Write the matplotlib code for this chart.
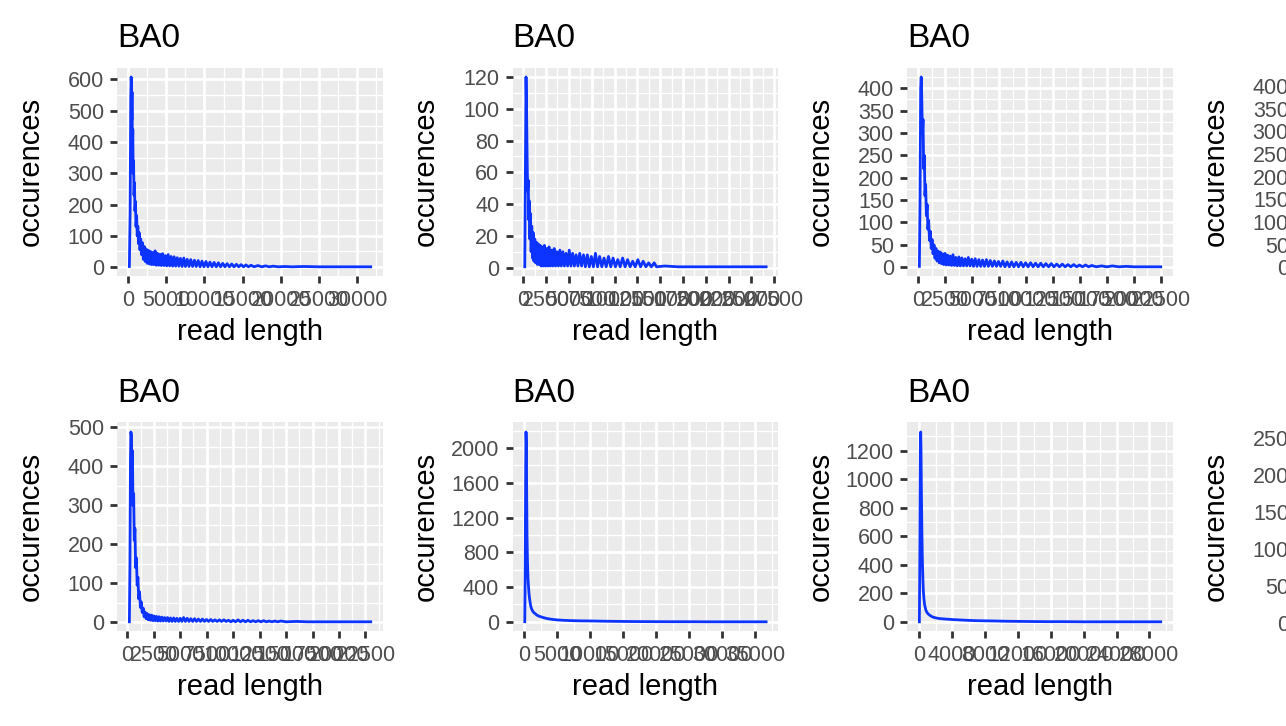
import matplotlib
matplotlib.use("Agg")
import matplotlib.pyplot as plt
from matplotlib.ticker import MultipleLocator, StrMethodFormatter

plt.rcParams['font.family'] = ['Liberation Sans', 'DejaVu Sans']

# read length / occurences per sample
len1 = [150, 250, 330, 380, 420, 460, 500, 550, 600, 650,
        700, 760, 820, 880, 950, 1020, 1100, 1180, 1260, 1350,
        1440, 1540, 1640, 1750, 1860, 1980, 2100, 2230, 2360, 2500,
        2640, 2780, 2920, 3070, 3220, 3370, 3520, 3680, 3840, 4000,
        4170, 4340, 4510, 4690, 4870, 5050, 5240, 5430, 5620, 5820,
        6020, 6220, 6430, 6640, 6850, 7070, 7290, 7510, 7740, 7970,
        8200, 8440, 8680, 8920, 9170, 9420, 9670, 9930, 10190, 10450,
        10720, 10990, 11260, 11540, 11820, 12100, 12390, 12680, 12970, 13270,
        13570, 13870, 14180, 14490, 14800, 15120, 15440, 15760, 16100, 16500,
        17000, 17500, 18000, 18500, 19000, 19700, 20500, 21500, 23000, 25000,
        27500, 30000, 31800]
occ1 = [2, 180, 540, 608, 590, 470, 560, 380, 440, 300,
        340, 230, 270, 180, 210, 130, 165, 100, 130, 75,
        110, 55, 90, 40, 78, 25, 66, 18, 58, 12,
        54, 10, 50, 8, 47, 8, 52, 6, 44, 6,
        41, 5, 43, 5, 37, 4, 40, 4, 34, 3,
        33, 3, 30, 3, 28, 2, 29, 2, 25, 2,
        24, 2, 22, 2, 21, 1, 19, 1, 18, 1,
        16, 1, 15, 1, 14, 1, 12, 1, 11, 1,
        10, 1, 9, 1, 8, 1, 7, 1, 6, 1,
        5, 1, 4, 1, 3, 1, 2, 1, 2, 1,
        1, 1, 1]

len2 = [163, 230, 300, 360, 420, 480, 540, 600, 660, 720,
        790, 860, 930, 1010, 1090, 1170, 1260, 1350, 1440, 1540,
        1640, 1740, 1850, 1960, 2070, 2190, 2310, 2430, 2560, 2690,
        2820, 2960, 3100, 3240, 3390, 3540, 3690, 3850, 4010, 4170,
        4340, 4510, 4680, 4860, 5040, 5220, 5410, 5600, 5790, 5990,
        6190, 6390, 6600, 6810, 7020, 7240, 7460, 7680, 7910, 8140,
        8370, 8610, 8850, 9090, 9340, 9590, 9840, 10100, 10360, 10620,
        10890, 11160, 11430, 11710, 11990, 12270, 12560, 12850, 13140, 13440,
        13740, 14040, 14350, 14600, 15500, 17000, 19000, 21000, 23000, 25000,
        26620]
occ2 = [0.5, 60, 120, 100, 70, 48, 55, 30, 42, 18,
        34, 10, 26, 6, 22, 4, 18, 3, 16, 2,
        15, 2, 14, 1, 13, 1, 14, 1, 12, 1,
        13, 1, 11, 1, 12, 1, 10, 1, 11, 1,
        10, 1, 9, 1, 11, 1, 9, 1, 8, 1,
        9, 1, 8, 0.5, 8, 0.5, 7, 0.5, 9, 0.5,
        7, 0.5, 6, 0.5, 7, 0.5, 6, 0.5, 5, 0.5,
        6, 0.5, 5, 0.5, 4, 0.5, 5, 0.5, 4, 0.5,
        3, 0.5, 3, 0.5, 1, 0.5, 0.5, 0.5, 0.5, 0.5,
        0.5]

len3 = [99, 160, 220, 270, 320, 380, 440, 500, 560, 620,
        680, 750, 820, 890, 960, 1040, 1120, 1200, 1280, 1370,
        1460, 1550, 1640, 1740, 1840, 1940, 2040, 2150, 2260, 2370,
        2480, 2600, 2720, 2840, 2960, 3090, 3220, 3350, 3480, 3620,
        3760, 3900, 4040, 4190, 4340, 4490, 4640, 4800, 4960, 5120,
        5280, 5450, 5620, 5790, 5960, 6140, 6320, 6500, 6680, 6870,
        7060, 7250, 7440, 7640, 7840, 8040, 8240, 8450, 8660, 8870,
        9080, 9300, 9520, 9740, 9960, 10190, 10420, 10650, 10880, 11120,
        11360, 11600, 11840, 12090, 12340, 12590, 12840, 13100, 13360, 13620,
        13880, 14150, 14420, 14690, 14960, 15240, 15520, 15800, 16100, 16500,
        17000, 17500, 18000, 18600, 19300, 20000, 21000, 22495]
occ3 = [2, 150, 400, 425, 380, 300, 330, 220, 250, 160,
        185, 115, 140, 85, 105, 60, 80, 42, 62, 30,
        50, 20, 42, 14, 36, 10, 34, 8, 30, 6,
        31, 5, 27, 5, 25, 4, 28, 4, 22, 3,
        23, 3, 21, 3, 19, 3, 22, 3, 18, 2,
        19, 2, 17, 2, 16, 2, 17, 2, 15, 2,
        14, 2, 13, 2, 14, 1, 12, 1, 12, 1,
        11, 1, 11, 1, 10, 1, 10, 1, 9, 1,
        9, 1, 8, 1, 8, 1, 7, 1, 7, 1,
        6, 1, 6, 1, 5, 1, 5, 1, 4, 1,
        3, 1, 3, 1, 2, 1, 1, 1]

len4 = [100, 180, 260, 330, 400, 500, 620, 760, 900, 1100,
        1300, 1600, 2000, 2500, 3000, 3600, 4300, 5000, 6000, 7000,
        8500, 10000, 12000, 14000, 17000, 20000, 24000]
occ4 = [2, 200, 410, 420, 330, 240, 160, 110, 80, 50,
        55, 30, 28, 12, 22, 6, 18, 4, 14, 3,
        10, 2, 6, 1, 3, 1, 1]

len5 = [195, 250, 300, 340, 380, 430, 480, 540, 600, 660,
        720, 790, 860, 930, 1000, 1080, 1160, 1240, 1320, 1410,
        1500, 1590, 1680, 1780, 1880, 1980, 2080, 2190, 2300, 2410,
        2520, 2640, 2760, 2880, 3000, 3130, 3260, 3390, 3520, 3660,
        3800, 3940, 4080, 4230, 4380, 4530, 4680, 4840, 5000, 5160,
        5320, 5490, 5660, 5830, 6000, 6180, 6360, 6540, 6720, 6910,
        7100, 7290, 7480, 7680, 7880, 8080, 8280, 8490, 8700, 8910,
        9120, 9340, 9560, 9780, 10000, 10230, 10460, 10690, 10920, 11160,
        11400, 11640, 11880, 12130, 12380, 12630, 12880, 13140, 13400, 13660,
        13920, 14200, 14500, 15000, 16000, 17000, 18500, 20000, 21500, 23000]
occ5 = [1, 150, 420, 488, 480, 400, 440, 300, 330, 210,
        240, 140, 165, 95, 115, 60, 78, 38, 52, 25,
        36, 14, 26, 9, 22, 6, 19, 5, 18, 4,
        16, 4, 15, 3, 14, 3, 13, 3, 12, 3,
        12, 2, 11, 2, 11, 2, 10, 2, 10, 2,
        12, 2, 10, 2, 9, 2, 9, 2, 8, 2,
        8, 2, 7, 2, 7, 2, 6, 2, 6, 2,
        6, 2, 5, 1, 5, 1, 6, 1, 5, 1,
        5, 1, 4, 1, 4, 1, 4, 1, 3, 1,
        3, 1, 3, 1, 2, 1, 1, 1, 1, 1]

len6 = [111, 180, 250, 300, 350, 400, 450, 520, 600, 680,
        760, 850, 950, 1050, 1200, 1350, 1500, 1700, 1900, 2200,
        2500, 2900, 3300, 3800, 4400, 5000, 6000, 7000, 8500, 10000,
        12000, 14000, 16500, 19000, 22000, 25000, 28000, 31000, 34000, 36670]
occ6 = [2, 600, 1800, 2183, 2050, 1500, 1000, 700, 500, 400,
        320, 260, 210, 170, 140, 120, 105, 95, 80, 68,
        60, 50, 42, 34, 28, 23, 18, 15, 12, 11,
        8, 6, 4, 3, 2, 2, 1, 1, 1, 1]

len7 = [10, 70, 130, 170, 210, 260, 320, 380, 440, 500,
        570, 650, 730, 820, 920, 1050, 1200, 1400, 1650, 1900,
        2200, 2600, 3000, 3500, 4000, 4600, 5300, 6000, 7000, 8000,
        9000, 10500, 12000, 13500, 15500, 17500, 20000, 22500, 25000, 27500,
        29380]
occ7 = [1, 500, 1200, 1330, 1200, 900, 620, 420, 300, 210,
        160, 120, 100, 80, 68, 58, 50, 42, 34, 30,
        26, 23, 21, 19, 17, 15, 13, 11, 9, 8,
        7, 5, 4, 3, 2, 2, 1, 1, 1, 1,
        1]

len8 = [100, 200, 300, 380, 460, 560, 680, 820, 1000, 1250,
        1500, 2000, 2600, 3300, 4200, 5500, 7000, 9000, 12000, 16000,
        21000, 26000, 30000]
occ8 = [1, 120, 240, 258, 220, 160, 110, 80, 60, 45,
        35, 25, 18, 14, 10, 8, 6, 4, 3, 2,
        1, 1, 1]

samples = ["BA0"] * 8
lengths = [len1, len2, len3, len4, len5, len6, len7, len8]
counts = [occ1, occ2, occ3, occ4, occ5, occ6, occ7, occ8]
x_steps = [5000, 2500, 2500, 2500, 2500, 5000, 4000, 5000]
y_steps = [100, 20, 50, 50, 100, 400, 200, 50]

W, H = 1286, 726
fig = plt.figure(figsize=(W / 100, H / 100), dpi=100)

# panel boxes in pixels; the 4th column runs off the right edge like the original
col_left = [117.3, 512.7, 907.3, 1302.3]
row_top = [67.5, 422.5]
pw, ph = 265.5, 208.8

for i in range(8):
    r, c = divmod(i, 4)
    ax = fig.add_axes([col_left[c] / W, 1 - (row_top[r] + ph) / H, pw / W, ph / H])
    x, y = lengths[i], counts[i]
    ax.plot(x, y, color='#0D33FF', lw=2.0)

    # ggplot-like 5% expansion
    xr = max(x) - min(x)
    yr = max(y) - min(y)
    ax.set_xlim(min(x) - 0.05 * xr, max(x) + 0.05 * xr)
    ax.set_ylim(min(y) - 0.05 * yr, max(y) + 0.05 * yr)

    ax.set_facecolor('#EBEBEB')
    for s in ax.spines.values():
        s.set_visible(False)
    ax.xaxis.set_major_locator(MultipleLocator(x_steps[i]))
    ax.xaxis.set_minor_locator(MultipleLocator(x_steps[i] / 2))
    ax.yaxis.set_major_locator(MultipleLocator(y_steps[i]))
    ax.yaxis.set_minor_locator(MultipleLocator(y_steps[i] / 2))
    ax.xaxis.set_major_formatter(StrMethodFormatter('{x:.0f}'))
    ax.yaxis.set_major_formatter(StrMethodFormatter('{x:.0f}'))
    ax.grid(which='major', color='white', lw=2.0)
    ax.grid(which='minor', color='white', lw=1.0)
    ax.set_axisbelow(True)
    ax.tick_params(which='major', length=5.2, width=2.0, color='#333333',
                   labelsize=15.5, labelcolor='#4D4D4D', pad=4.5)
    ax.tick_params(which='minor', length=0)

    ax.set_title(samples[i], loc='left', fontsize=24, pad=14.5)
    ax.set_xlabel('read length', fontsize=21, va='center')
    ax.set_ylabel('occurences', fontsize=21, va='center')
    ax.xaxis.set_label_coords(0.5, -0.267)
    ax.yaxis.set_label_coords(-87 / pw, 0.5)

fig.savefig('out.png', dpi=100)
